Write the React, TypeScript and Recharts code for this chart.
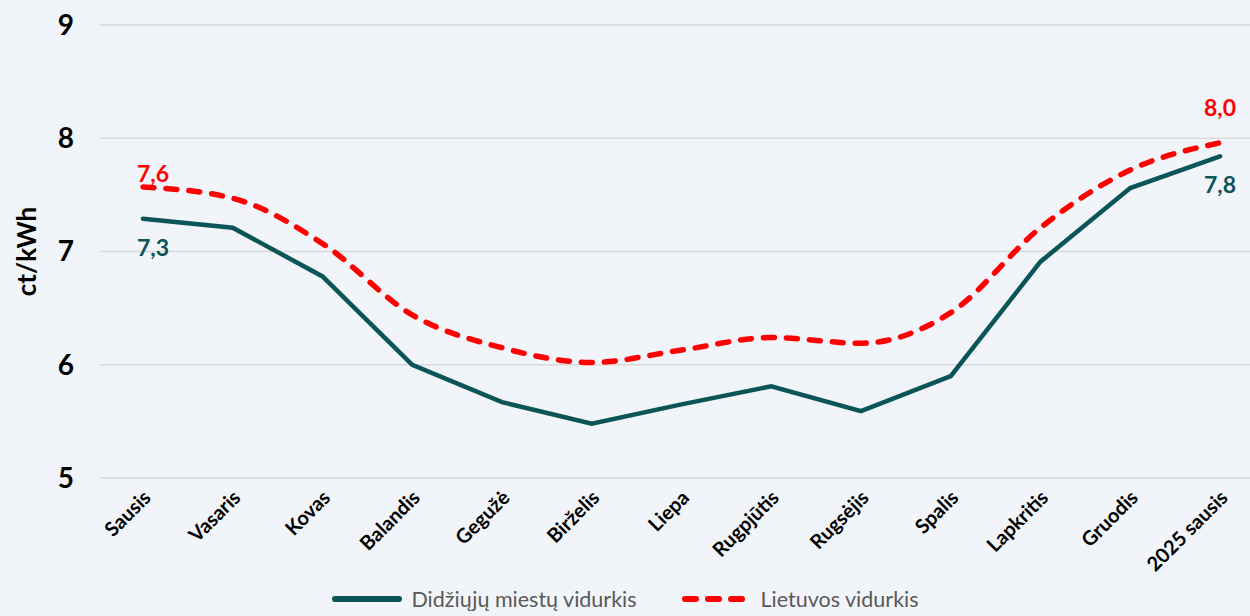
import { LineChart, Line, XAxis, YAxis, CartesianGrid, Legend, LabelList } from "recharts";

document.body.style.margin = "0";

const months = [
  "Sausis", "Vasaris", "Kovas", "Balandis", "Gegužė", "Birželis", "Liepa",
  "Rugpjūtis", "Rugsėjis", "Spalis", "Lapkritis", "Gruodis", "2025 sausis",
];
const cities = [7.29, 7.21, 6.78, 6.0, 5.67, 5.48, 5.65, 5.81, 5.59, 5.9, 6.91, 7.56, 7.84];
const lithuania = [7.57, 7.47, 7.07, 6.44, 6.15, 6.02, 6.13, 6.24, 6.19, 6.46, 7.21, 7.72, 7.96];
const yTicks = [5, 6, 7, 8, 9];

const TEAL = "#0b5558";
const RED = "#ff0000";
const FONT = "Lato, 'Open Sans', sans-serif";

const data = months.map((m, i) => ({ m, cities: cities[i], lt: lithuania[i] }));
const last = months.length - 1;

const fmt = (v: number) => v.toFixed(1).replace(".", ",");

function EndLabel(color: string, below: boolean) {
  return (props: any) => {
    const { x, y, value, index } = props;
    if (index !== 0 && index !== last) return null;
    const dx = index === 0 ? 10 : 0;
    const dy = below ? 37 : index === 0 ? -5 : -27;
    return (
      <text x={x + dx} y={y + dy} fill={color} textAnchor="middle" fontFamily={FONT} fontWeight={700} fontSize={23}>
        {fmt(value)}
      </text>
    );
  };
}

function XTick({ x, y, payload }: any) {
  return (
    <g transform={`translate(${x + 4},${y + 8})`}>
      <text transform="rotate(-45)" textAnchor="end" dy={7} fontFamily={FONT} fontWeight={700} fontSize={20} fill="#000">
        {payload.value}
      </text>
    </g>
  );
}

function LegendBox() {
  const items = [
    { label: "Didžiųjų miestų vidurkis", color: TEAL, dash: undefined as string | undefined },
    { label: "Lietuvos vidurkis", color: RED, dash: "11 12" },
  ];
  return (
    <div style={{ display: "flex", justifyContent: "center", gap: 44, fontFamily: FONT, fontSize: 21.5, color: "#595959" }}>
      {items.map((it) => (
        <div key={it.label} style={{ display: "flex", alignItems: "center", gap: 8 }}>
          <svg width={72} height={10}>
            <line x1={4} y1={5} x2={68} y2={5} stroke={it.color} strokeWidth={6} strokeLinecap="round" strokeDasharray={it.dash} />
          </svg>
          <span>{it.label}</span>
        </div>
      ))}
    </div>
  );
}

export default function App() {
  return (
    <div style={{ width: 1250, height: 616, background: "#f1f4f8" }}>
      <LineChart width={1250} height={616} data={data} margin={{ top: 25, right: 0, left: 0, bottom: 0 }}>
        <CartesianGrid vertical={false} stroke="#d9d9d9" strokeWidth={1.5} />
        <XAxis
          dataKey="m"
          scale="point"
          padding={{ left: 43, right: 30 }}
          axisLine={false}
          tickLine={false}
          interval={0}
          height={108}
          tick={<XTick />}
        />
        <YAxis
          domain={[5, 9]}
          ticks={yTicks}
          width={100}
          axisLine={false}
          tickLine={false}
          tick={{ fontFamily: FONT, fontWeight: 700, fontSize: 28, fill: "#000" }}
          tickMargin={20}
          label={{
            value: "ct/kWh",
            angle: -90,
            position: "insideLeft",
            dx: 22,
            style: { fontFamily: FONT, fontWeight: 700, fontSize: 26, fill: "#000", textAnchor: "middle" },
          }}
        />
        <Legend verticalAlign="bottom" height={30} content={<LegendBox />} />
        <Line
          dataKey="cities"
          name="Didžiųjų miestų vidurkis"
          stroke={TEAL}
          strokeWidth={4.5}
          dot={false}
          isAnimationActive={false}
          strokeLinecap="round"
        >
          <LabelList dataKey="cities" content={EndLabel(TEAL, true)} />
        </Line>
        <Line
          dataKey="lt"
          name="Lietuvos vidurkis"
          type="monotone"
          stroke={RED}
          strokeWidth={5.5}
          strokeDasharray="11 12"
          strokeLinecap="round"
          dot={false}
          isAnimationActive={false}
        >
          <LabelList dataKey="lt" content={EndLabel(RED, false)} />
        </Line>
      </LineChart>
    </div>
  );
}
